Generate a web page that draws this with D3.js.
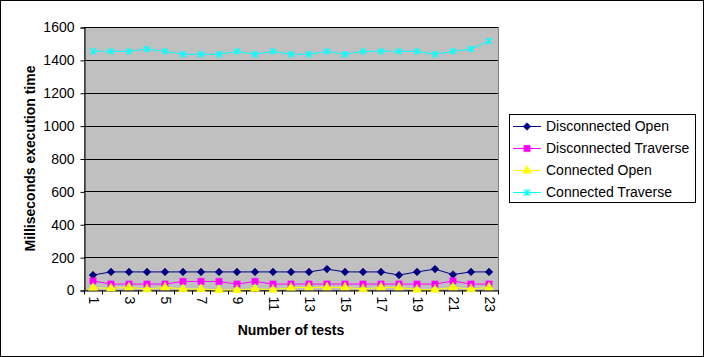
<!DOCTYPE html>
<html><head><meta charset="utf-8">
<script src="https://cdn.jsdelivr.net/npm/d3@7"></script>
<style>
html,body{margin:0;padding:0;background:#fff;}
svg text{font-family:Arial,"Liberation Sans",sans-serif;}
</style></head>
<body>
<svg id="chart" width="704" height="357"></svg>
<script>
const categories = d3.range(1, 24);
const tickLabels = [1,3,5,7,9,11,13,15,17,19,21,23];
const yTicks = [0,200,400,600,800,1000,1200,1400,1600];
const seriesNames = ["Disconnected Open","Disconnected Traverse","Connected Open","Connected Traverse"];
const disconnectedOpen = [91,110,110,110,110,110,110,110,110,110,110,110,110,127,110,110,110,91,110,127,94,110,110];
const disconnectedTraverse = [55,36,36,36,36,52,52,52,36,52,36,36,36,36,36,36,36,36,36,36,55,36,36];
const connectedOpen = [14,10,16,6,16,6,6,0,0,8,2,14,16,16,16,6,16,16,2,2,16,6,16];
const connectedTraverse = [1452,1452,1452,1466,1452,1434,1434,1434,1452,1434,1452,1434,1434,1452,1434,1452,1452,1452,1452,1434,1452,1466,1515];
const colors = ["#000080","#FF00FF","#FFFF00","#00FFFF"];

const svg = d3.select("#chart");
const W = 704, H = 357;
const plot = {left:84, right:498, top:27, bottom:290};
const FONT = "Arial, 'Liberation Sans', sans-serif";

svg.append("rect").attr("x",0.5).attr("y",0.5).attr("width",W-1).attr("height",H-1)
  .attr("fill","#fff").attr("stroke","#000");

const x = d3.scaleBand().domain(categories).range([plot.left, plot.right]);
const y = d3.scaleLinear().domain([0,1600]).range([plot.bottom, plot.top]);

svg.append("rect").attr("x",plot.left+0.5).attr("y",plot.top+0.5)
  .attr("width",plot.right-plot.left).attr("height",plot.bottom-plot.top)
  .attr("fill","#C0C0C0").attr("stroke","#808080");

// gridlines
svg.append("g").selectAll("line").data(yTicks.filter(d=>d>0)).join("line")
  .attr("x1",plot.left).attr("x2",plot.right)
  .attr("y1",d=>Math.round(y(d))+0.5).attr("y2",d=>Math.round(y(d))+0.5)
  .attr("stroke","#000").attr("shape-rendering","crispEdges");

// y axis
const yAxis = d3.axisLeft(y).tickValues(yTicks).tickFormat(d3.format("d")).tickSize(4).tickPadding(6);
const gy = svg.append("g").attr("transform",`translate(${plot.left+0.5},0.5)`).call(yAxis);
gy.select(".domain").attr("stroke","#000");
gy.selectAll(".tick line").attr("stroke","#000");
gy.selectAll("text").attr("font-size","14px").attr("fill","#000").attr("font-family",FONT);

// x axis
const xAxis = d3.axisBottom(x).tickValues(categories).tickSize(0).tickFormat(d=>tickLabels.includes(d)?d:"");
const gx = svg.append("g").attr("transform",`translate(0.5,${plot.bottom+0.5})`).call(xAxis);
gx.select(".domain").attr("stroke","#000");
gx.selectAll("text").attr("font-size","14px").attr("fill","#000")
  .attr("font-family",FONT)
  .attr("text-anchor","start").attr("dy","0.35em")
  .attr("transform","translate(0,6) rotate(90)").attr("x",0).attr("y",0);
const bounds = categories.map(c=>x(c)).concat([plot.right]);
gx.append("g").selectAll("line").data(bounds).join("line")
  .attr("x1",d=>Math.round(d)).attr("x2",d=>Math.round(d))
  .attr("y1",0).attr("y2",4).attr("stroke","#000");

// series
const allData = [disconnectedOpen, disconnectedTraverse, connectedOpen, connectedTraverse];
const cx = c => x(c) + x.bandwidth()/2;
const line = d3.line().x((d,i)=>cx(categories[i])).y(d=>y(d));
const symbols = [d3.symbolSquare, d3.symbolSquare, d3.symbolTriangle, null];
const sizes = [30, 40, 36, 0];

function drawMarker(g, k, px, py) {
  if (k === 3) {
    const s = 3;
    g.append("path").attr("d",`M${px-s},${py-s}L${px+s},${py+s}M${px-s},${py+s}L${px+s},${py-s}M${px},${py-s}L${px},${py+s}`)
      .attr("stroke",colors[k]).attr("stroke-width",1.2).attr("fill","none");
  } else {
    g.append("path").attr("d",d3.symbol().type(symbols[k]).size(sizes[k])())
      .attr("transform",`translate(${px},${py})` + (k===0?" rotate(45)":""))
      .attr("fill",colors[k]).attr("stroke",colors[k]).attr("stroke-width",0.5);
  }
}

[0,1,2,3].forEach(k=>{
  const g = svg.append("g");
  g.append("path").datum(allData[k]).attr("d",line).attr("fill","none")
    .attr("stroke",colors[k]).attr("stroke-width",1);
  allData[k].forEach((v,i)=>drawMarker(g,k,cx(categories[i]),y(v)));
});

// axis titles
svg.append("text").attr("x",(plot.left+plot.right)/2).attr("y",335)
  .attr("text-anchor","middle").attr("font-size","14px").attr("font-weight","bold").text("Number of tests");
svg.append("text").attr("transform",`translate(35,${(plot.top+plot.bottom)/2}) rotate(-90)`)
  .attr("text-anchor","middle").attr("font-size","14px").attr("font-weight","bold").text("Milliseconds execution time");

// legend
const lg = svg.append("g");
lg.append("rect").attr("x",509.5).attr("y",114.5).attr("width",186).attr("height",88)
  .attr("fill","#fff").attr("stroke","#000");
const ly = d3.scalePoint().domain(seriesNames).range([126,192]);
seriesNames.forEach((n,k)=>{
  const yy = ly(n);
  lg.append("line").attr("x1",513).attr("x2",541).attr("y1",yy+0.5).attr("y2",yy+0.5).attr("stroke",colors[k]);
  drawMarker(lg,k,527,yy+0.5);
  lg.append("text").attr("x",546).attr("y",yy).attr("dy","0.35em").attr("font-size","14px").text(n);
});
</script>
</body></html>
